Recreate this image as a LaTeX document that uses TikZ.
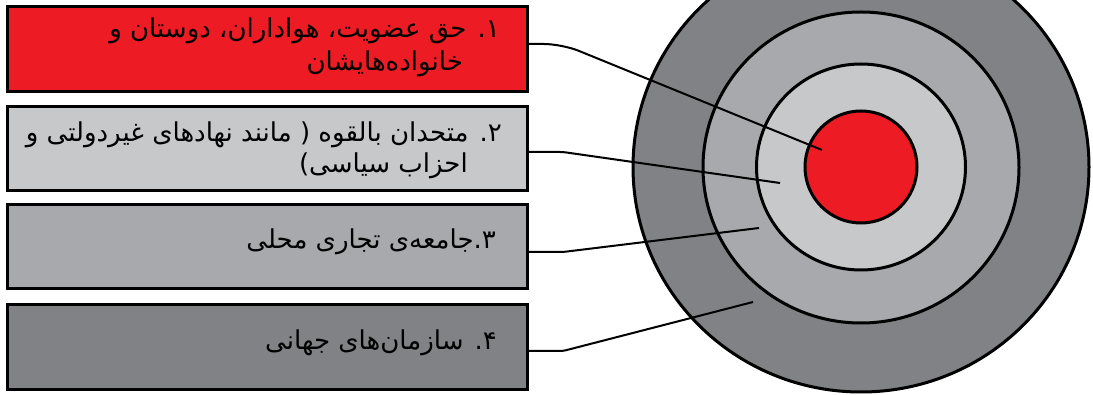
\documentclass[tikz,border=0pt]{standalone}
\usepackage{fontspec}
\newfontfamily\fa[Script=Arabic]{DejaVu Sans}
\TeXXeTstate=1
\definecolor{cred}{RGB}{237,28,36}
\definecolor{clight}{RGB}{199,200,202}
\definecolor{cmed}{RGB}{167,169,172}
\definecolor{cdark}{RGB}{128,130,133}
\begin{document}
\begin{tikzpicture}[x=1pt,y=-1pt,
  ring/.style={draw=black, line width=3pt},
  box/.style={draw=black, line width=3pt, rectangle, inner sep=0pt, outer sep=0pt, minimum width=520pt},
  conn/.style={draw=black, line width=2pt},
  lbl/.style={inner sep=0pt, font=\fa\fontsize{26}{30}\selectfont, anchor=base east}]
\useasboundingbox (0,0) rectangle (1093,395);
\begin{scope}
\clip (0,0) rectangle (1093,395);
\draw[ring, fill=cdark] (861,167) ellipse [x radius=228, y radius=225];
\draw[ring, fill=cmed] (861,167.5) ellipse [x radius=158, y radius=155.5];
\draw[ring, fill=clight] (861,167) ellipse [x radius=104.5, y radius=103];
\draw[ring, fill=cred] (861,167) ellipse [x radius=56, y radius=56];
\end{scope}
\node[box, fill=cred, minimum height=85pt] (b1) at (267,49.5) {};
\node[box, fill=clight, minimum height=84pt] (b2) at (267,149) {};
\node[box, fill=cmed, minimum height=84pt] (b3) at (267,247) {};
\node[box, fill=cdark, minimum height=85pt] (b4) at (267,347.5) {};
\coordinate (p1) at (822,150);
\coordinate (p2) at (780,183);
\coordinate (p3) at (759,228);
\coordinate (p4) at (753,302);
\draw[conn, rounded corners=18pt] ([yshift=5.5pt]b1.east) -- (562,44) -- (p1);
\draw[conn, rounded corners=3pt] ([yshift=-3pt]b2.east) -- (563,152) -- (p2);
\draw[conn, rounded corners=3pt] ([yshift=-5pt]b3.east) -- (563,252) -- (p3);
\draw[conn, rounded corners=3pt] ([yshift=-3.5pt]b4.east) -- (563,351) -- (p4);
\node[lbl] (t1a) at (500,38) {\beginR ۱. حق عضویت، هواداران، دوستان و\endR};
\node[lbl] (t1b) at (463,71) {\beginR خانواده‌هایشان\endR};
\node[lbl] (t2a) at (502,142) {\beginR ۲. متحدان بالقوه ( مانند نهادهای غیردولتی و\endR};
\node[lbl] (t2b) at (468,173) {\beginR احزاب سیاسی)\endR};
\node[lbl] (t3) at (496,249) {\beginR ۳.جامعه‌ی تجاری محلی\endR};
\node[lbl] (t4) at (497,350) {\beginR ۴. سازمان‌های جهانی\endR};
\end{tikzpicture}
\end{document}
